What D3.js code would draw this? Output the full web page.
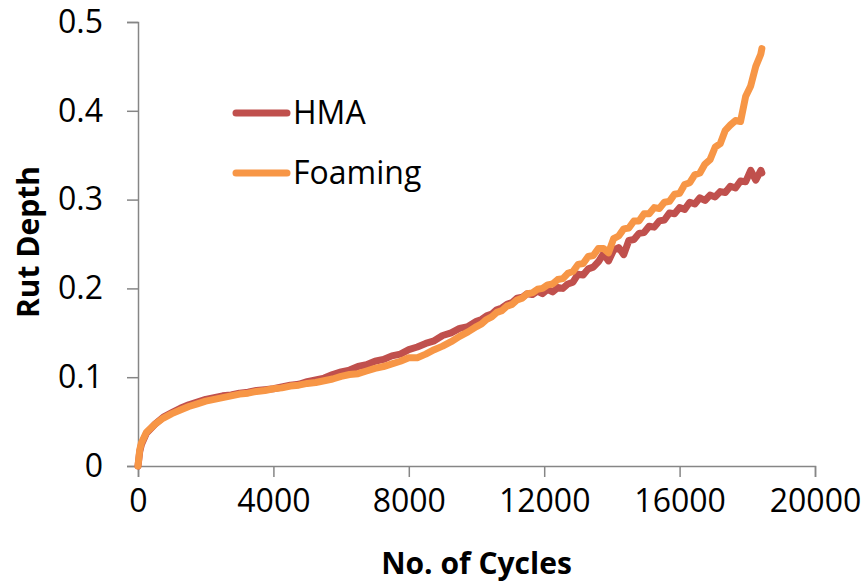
<!DOCTYPE html>
<html>
<head>
<meta charset="utf-8">
<script src="https://cdn.jsdelivr.net/npm/d3@7"></script>
<style>
  html, body { margin: 0; padding: 0; background: #fff; }
  svg { display: block; }
  text { font-family: "Open Sans", "Liberation Sans", sans-serif; fill: #000; }
</style>
</head>
<body>
<svg id="chart" width="864" height="584"></svg>
<script>
// Load cycles (shared by both mixes)
const cycles = [
  0, 50, 100, 250, 500, 750, 1000, 1250, 1500, 1750, 2000, 2250, 2500, 2750,
  3000, 3250, 3500, 3750, 4000, 4250, 4500, 4750, 5000, 5250, 5500, 5750,
  6000, 6250, 6500, 6750, 7000, 7250, 7500, 7750, 8000, 8250, 8500, 8750,
  9000, 9250, 9500, 9750, 10000,
  10150, 10300, 10450, 10600, 10750, 10900, 11050, 11200, 11350, 11500,
  11650, 11800, 11950, 12100, 12250, 12400, 12550, 12700, 12850, 13000,
  13150, 13300, 13450, 13600, 13750, 13900, 14050, 14200, 14350, 14500,
  14650, 14800, 14950, 15100, 15250, 15400, 15550, 15700, 15850, 16000,
  16150, 16300, 16450, 16600, 16750, 16900, 17050, 17200, 17350, 17500,
  17650, 17800, 17950, 18100, 18250, 18400, 18430
];

// Rut depth, hot mix asphalt
const hmaRut = [
  0, 0.016, 0.024, 0.037, 0.047, 0.055, 0.060, 0.065, 0.069, 0.072, 0.075, 0.077, 0.079, 0.080,
  0.082, 0.083, 0.085, 0.086, 0.087, 0.089, 0.091, 0.092, 0.095, 0.097, 0.099, 0.103,
  0.106, 0.108, 0.112, 0.114, 0.118, 0.120, 0.124, 0.126, 0.131, 0.134, 0.138, 0.141,
  0.147, 0.150, 0.155, 0.157, 0.163,
  0.165, 0.169, 0.171, 0.176, 0.178, 0.182, 0.184, 0.189, 0.190, 0.194,
  0.193, 0.197, 0.194, 0.199, 0.196, 0.201, 0.200, 0.205, 0.207, 0.216,
  0.215, 0.222, 0.224, 0.230, 0.239, 0.231, 0.243, 0.246, 0.238, 0.254,
  0.255, 0.262, 0.263, 0.270, 0.269, 0.276, 0.277, 0.285, 0.284, 0.291,
  0.289, 0.297, 0.295, 0.302, 0.299, 0.305, 0.303, 0.309, 0.308, 0.315,
  0.313, 0.321, 0.320, 0.333, 0.322, 0.333, 0.330
];

// Rut depth, foamed mix
const foamingRut = [
  0, 0.018, 0.026, 0.038, 0.047, 0.054, 0.059, 0.063, 0.067, 0.070, 0.073, 0.075, 0.077, 0.079,
  0.081, 0.082, 0.084, 0.085, 0.087, 0.088, 0.090, 0.091, 0.093, 0.094, 0.096, 0.098,
  0.101, 0.103, 0.104, 0.107, 0.110, 0.112, 0.115, 0.118, 0.122, 0.122, 0.126, 0.131,
  0.135, 0.140, 0.146, 0.151, 0.157,
  0.160, 0.165, 0.168, 0.173, 0.175, 0.180, 0.182, 0.187, 0.189, 0.194,
  0.195, 0.199, 0.200, 0.204, 0.205, 0.210, 0.211, 0.217, 0.219, 0.227,
  0.228, 0.236, 0.237, 0.245, 0.245, 0.240, 0.256, 0.259, 0.267, 0.268,
  0.276, 0.276, 0.284, 0.284, 0.291, 0.290, 0.297, 0.298, 0.306, 0.307,
  0.317, 0.319, 0.328, 0.330, 0.340, 0.345, 0.359, 0.363, 0.378, 0.384,
  0.389, 0.388, 0.416, 0.428, 0.450, 0.464, 0.470
];

const seriesNames = ["HMA", "Foaming"];
const seriesColors = ["#C0504D", "#F79646"];
const xTicks = [0, 4000, 8000, 12000, 16000, 20000];
const yTicks = [0, 0.1, 0.2, 0.3, 0.4, 0.5];

const svg = d3.select("#chart");
const plot = { left: 138, right: 815, top: 22, bottom: 466 };

const x = d3.scaleLinear().domain([0, 20000]).range([plot.left, plot.right]);
const y = d3.scaleLinear().domain([0, 0.5]).range([plot.bottom, plot.top]);

const axisColor = "#868686";

// y axis
const yAxis = svg.append("g")
  .attr("transform", `translate(${plot.left},0)`)
  .call(d3.axisLeft(y).tickValues(yTicks).tickSize(11).tickPadding(24)
    .tickFormat(d => d === 0 ? "0" : d3.format(".1f")(d)));
yAxis.select(".domain").attr("stroke", axisColor).attr("stroke-width", 1.5);
yAxis.selectAll(".tick line").attr("stroke", axisColor).attr("stroke-width", 1.5);
yAxis.selectAll("text").attr("font-size", 32).attr("font-family", "Open Sans").attr("fill", "#000");

// x axis
const xAxis = svg.append("g")
  .attr("transform", `translate(0,${plot.bottom})`)
  .call(d3.axisBottom(x).tickValues(xTicks).tickSize(11).tickPadding(12)
    .tickFormat(d3.format("d")));
xAxis.select(".domain").attr("stroke", axisColor).attr("stroke-width", 1.5);
xAxis.selectAll(".tick line").attr("stroke", axisColor).attr("stroke-width", 1.5);
xAxis.selectAll("text").attr("font-size", 32).attr("font-family", "Open Sans").attr("fill", "#000");

// series lines
const seriesData = [hmaRut, foamingRut];
const line = d3.line()
  .x(d => x(d[0]))
  .y(d => y(d[1]));

seriesData.forEach((vals, i) => {
  const pts = cycles.map((c, k) => [c, vals[k]]);
  svg.append("path")
    .datum(pts)
    .attr("fill", "none")
    .attr("stroke", seriesColors[i])
    .attr("stroke-width", 7)
    .attr("stroke-linejoin", "round")
    .attr("stroke-linecap", "round")
    .attr("d", line);
});

// axis titles
svg.append("text")
  .attr("x", (plot.left + plot.right) / 2)
  .attr("y", 574)
  .attr("text-anchor", "middle")
  .attr("font-size", 30)
  .attr("font-weight", "bold")
  .text("No. of Cycles");

svg.append("text")
  .attr("transform", `translate(39,${(plot.top + plot.bottom) / 2 - 2}) rotate(-90)`)
  .attr("text-anchor", "middle")
  .attr("font-size", 30)
  .attr("font-weight", "bold")
  .text("Rut Depth");

// legend
const legend = svg.append("g");
seriesNames.forEach((name, i) => {
  const ly = 113 + i * 60;
  legend.append("line")
    .attr("x1", 236).attr("x2", 287)
    .attr("y1", ly).attr("y2", ly)
    .attr("stroke", seriesColors[i])
    .attr("stroke-width", 7)
    .attr("stroke-linecap", "round");
  legend.append("text")
    .attr("x", 293)
    .attr("y", ly)
    .attr("dy", "0.35em")
    .attr("font-size", 32)
    .text(name);
});
</script>
</body>
</html>
